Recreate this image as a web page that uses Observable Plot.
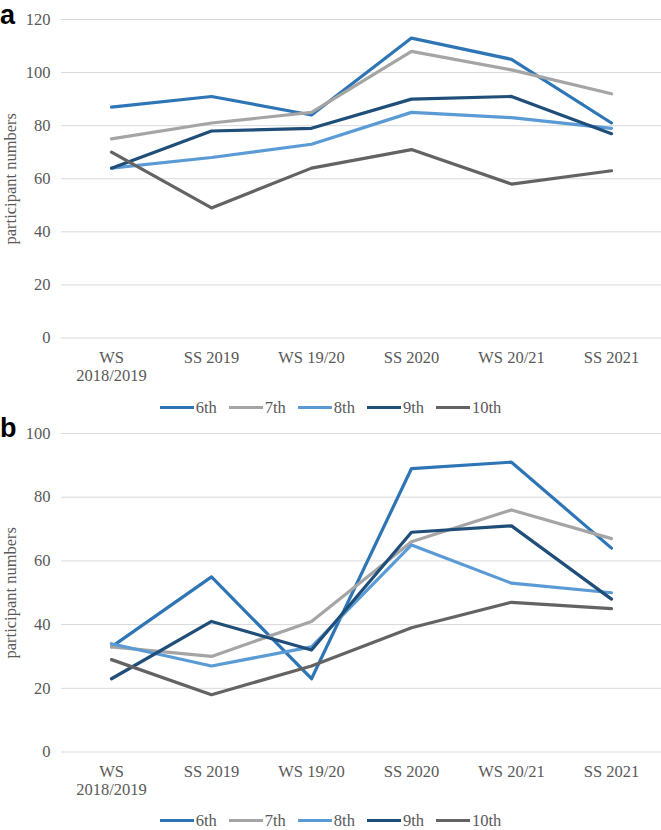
<!DOCTYPE html>
<html><head><meta charset="utf-8">
<script src="https://cdn.jsdelivr.net/npm/d3@7"></script>
<script src="https://cdn.jsdelivr.net/npm/@observablehq/plot@0.6"></script>
<style>
body{margin:0;background:#fff;}
#wrap{position:relative;width:661px;height:830px;font-family:"Liberation Serif",serif;color:#595959;overflow:hidden;}
.panel{position:absolute;left:0;}
.panel text{font-family:"Liberation Serif",serif;}
.tag{position:absolute;left:0;font-family:"Liberation Sans",Arial,sans-serif;font-weight:bold;font-size:27px;color:#000;line-height:27px;height:27px;}
.legend{position:absolute;left:0;width:661px;height:21px;display:flex;justify-content:center;align-items:center;gap:12px;font-size:16.5px;color:#595959;}
.item{display:flex;align-items:center;}
.sw{display:inline-block;width:34px;height:3.5px;margin-right:2px;}
</style></head><body><div id="wrap"></div>
<script>
const semesters = ["WS 2018/2019","SS 2019","WS 19/20","SS 2020","WS 20/21","SS 2021"];
const semesterLabels = ["WS\n2018/2019","SS 2019","WS 19/20","SS 2020","WS 20/21","SS 2021"];
const grades = ["6th","7th","8th","9th","10th"];
const gradeColors = ["#2E75B6","#A5A5A5","#5B9BD5","#1F4E79","#636363"];

// Panel a
const a6th  = [87, 91, 84, 113, 105, 81];
const a7th  = [75, 81, 85, 108, 101, 92];
const a8th  = [64, 68, 73, 85, 83, 79];
const a9th  = [64, 78, 79, 90, 91, 77];
const a10th = [70, 49, 64, 71, 58, 63];
const aTicks = [0, 20, 40, 60, 80, 100, 120];

// Panel b
const b6th  = [33, 55, 23, 89, 91, 64];
const b7th  = [33, 30, 41, 66, 76, 67];
const b8th  = [34, 27, 33, 65, 53, 50];
const b9th  = [23, 41, 32, 69, 71, 48];
const b10th = [29, 18, 27, 39, 47, 45];
const bTicks = [0, 20, 40, 60, 80, 100];

const yLabel = "participant numbers";
const serif = "'Liberation Serif', serif";

function toRows(series) {
  const rows = [];
  series.forEach((vals, gi) => vals.forEach((v, si) => rows.push({semester: semesters[si], grade: grades[gi], value: v})));
  return rows;
}

function makePanel(series, ticks, maxY) {
  const rows = toRows(series);
  return Plot.plot({
    width: 661,
    height: 395,
    marginTop: 19,
    marginBottom: 57.5,
    marginLeft: 61,
    marginRight: 0,
    style: {fontFamily: serif, fontSize: "16.5px", color: "#595959", background: "#fff"},
    x: {type: "point", domain: semesters, padding: 0.5},
    y: {domain: [0, maxY], ticks: ticks},
    color: {domain: grades, range: gradeColors},
    marks: [
      Plot.gridY(ticks, {stroke: "#d9d9d9", strokeOpacity: 1, strokeWidth: 1}),
      Plot.axisY(ticks, {tickSize: 0, tickPadding: 11, label: yLabel, labelAnchor: "center", labelArrow: "none", labelOffset: 57, fill: "#595959", fontFamily: serif}),
      Plot.axisX({tickSize: 0, tickPadding: 12, lineHeight: 1.1, tickFormat: d => semesterLabels[semesters.indexOf(d)], label: null, fill: "#595959", fontFamily: serif}),
      Plot.line(rows, {x: "semester", y: "value", z: "grade", stroke: "grade", strokeWidth: 3.2, strokeLinejoin: "round", strokeLinecap: "round"})
    ]
  });
}

function makeLegend(top) {
  const lg = document.createElement("div");
  lg.className = "legend";
  lg.style.top = top + "px";
  grades.forEach((g, i) => {
    const it = document.createElement("div");
    it.className = "item";
    const sw = document.createElement("span");
    sw.className = "sw";
    sw.style.background = gradeColors[i];
    const t = document.createElement("span");
    t.textContent = g;
    it.appendChild(sw); it.appendChild(t);
    lg.appendChild(it);
  });
  return lg;
}

const wrap = document.getElementById("wrap");
const pa = makePanel([a6th, a7th, a8th, a9th, a10th], aTicks, 120);
pa.classList.add("panel"); pa.style.top = "0px"; pa.style.position = "absolute";
wrap.appendChild(pa);
wrap.appendChild(makeLegend(397));
const pb = makePanel([b6th, b7th, b8th, b9th, b10th], bTicks, 100);
pb.classList.add("panel"); pb.style.top = "414px"; pb.style.position = "absolute";
wrap.appendChild(pb);
wrap.appendChild(makeLegend(810));

const ta = document.createElement("div"); ta.className = "tag"; ta.textContent = "a"; ta.style.top = "2px"; wrap.appendChild(ta);
const tb = document.createElement("div"); tb.className = "tag"; tb.textContent = "b"; tb.style.top = "415px"; wrap.appendChild(tb);
</script></body></html>
